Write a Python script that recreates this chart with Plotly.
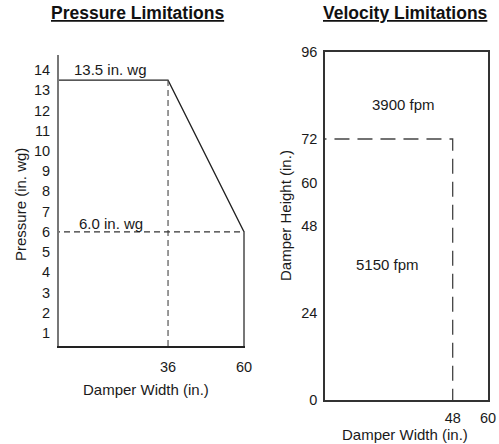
import plotly.graph_objects as go

# Pressure limitations data
p_width = [0, 36, 60, 60]
p_pressure = [13.5, 13.5, 6.0, 0]
p_yticks = list(range(1, 15))
p_xticks = [36, 60]
p_high_label = "13.5 in. wg"
p_low_label = "6.0 in. wg"

# Velocity limitations data
v_width_max = 60
v_height_max = 96
v_limit_width = 48
v_limit_height = 72
v_yticks = [0, 24, 48, 60, 72, 96]
v_xticks = [48, 60]
v_high_label = "3900 fpm"
v_low_label = "5150 fpm"

FONT = "Liberation Sans, Arial, Helvetica, sans-serif"
fig = go.Figure()

# Left: pressure curve
fig.add_trace(go.Scatter(x=p_width, y=p_pressure, mode="lines",
                         line=dict(color="#222", width=1.3), xaxis="x", yaxis="y",
                         hoverinfo="skip"))
# right edge (gray thick)
fig.add_trace(go.Scatter(x=[p_width[2], p_width[3]], y=[p_pressure[2], p_pressure[3]], mode="lines",
                         line=dict(color="#777", width=2), xaxis="x", yaxis="y", hoverinfo="skip"))
# dashed guides
fig.add_trace(go.Scatter(x=[p_width[1], p_width[1]], y=[p_pressure[1], 0], mode="lines",
                         line=dict(color="#555", width=1.2, dash="6px,4px"), xaxis="x", yaxis="y",
                         hoverinfo="skip"))
fig.add_trace(go.Scatter(x=[0, p_width[2]], y=[p_pressure[2], p_pressure[2]], mode="lines",
                         line=dict(color="#333", width=1.2, dash="6px,4px"), xaxis="x", yaxis="y",
                         hoverinfo="skip"))

# Right: velocity dashed guide
fig.add_trace(go.Scatter(x=[0, v_limit_width, v_limit_width], y=[v_limit_height, v_limit_height, 0],
                         mode="lines", line=dict(color="#444", width=1.3, dash="15px,8px"),
                         xaxis="x2", yaxis="y2", hoverinfo="skip"))

tickfont = dict(family=FONT, size=14.5, color="#1a1a1a")

fig.update_layout(
    width=499, height=444, showlegend=False, autosize=False,
    margin=dict(l=0, r=0, t=0, b=0, pad=0),
    paper_bgcolor="white", plot_bgcolor="white",
    xaxis=dict(domain=[59/499, 245/499], range=[1.58, 60.3], tickvals=p_xticks,
               showgrid=False, zeroline=False, showline=True, linecolor="#222", linewidth=1.5,
               ticks="outside", ticklen=7, tickcolor="rgba(0,0,0,0)", tickfont=tickfont,
               anchor="y", fixedrange=True, automargin=False),
    yaxis=dict(domain=[1-346/444, 1-55/444], range=[0.36, 14.74], tickvals=p_yticks,
               showgrid=False, zeroline=False, showline=True, linecolor="#777", linewidth=2,
               ticks="outside", ticklen=4, tickcolor="rgba(0,0,0,0)", tickfont=tickfont,
               anchor="x", fixedrange=True, automargin=False),
    xaxis2=dict(domain=[325/499, 488/499], range=[4.6, v_width_max], tickvals=v_xticks,
                showgrid=False, zeroline=False, showline=True, mirror=True, linecolor="#333",
                linewidth=1.5, ticks="outside", ticklen=4, tickcolor="rgba(0,0,0,0)",
                tickfont=tickfont, anchor="y2", fixedrange=True, automargin=False),
    yaxis2=dict(domain=[1-400/444, 1-52/444], range=[0, v_height_max], tickvals=v_yticks,
                showgrid=False, zeroline=False, showline=True, mirror=True, linecolor="#333",
                linewidth=1.5, ticks="outside", ticklen=3, tickcolor="rgba(0,0,0,0)",
                tickfont=tickfont, anchor="x2", fixedrange=True, automargin=False),
)

ann_font = dict(family=FONT, size=15, color="#1a1a1a")
title_font = dict(family=FONT, size=17.5, color="#111")


def ann(text, px, py, font, angle=0):
    return dict(text=text, x=px/499, y=1-py/444, xref="paper", yref="paper",
                xanchor="center", yanchor="middle", showarrow=False, font=font,
                textangle=angle)


annotations = [
    ann("<b><u>Pressure Limitations</u></b>", 137, 13, title_font),
    ann("<b><u>Velocity Limitations</u></b>", 405, 13, title_font),
    ann("Damper Width (in.)", 146, 389, ann_font),
    ann("Damper Width (in.)", 405, 434, ann_font),
    ann("Pressure (in. wg)", 20, 205, ann_font, -90),
    ann("Damper Height (in.)", 285, 216, ann_font, -90),
    ann(p_high_label, 110, 70, ann_font),
    ann(p_low_label, 111, 223, ann_font),
    ann(v_high_label, 403, 104, ann_font),
    ann(v_low_label, 387, 264, ann_font),
]
fig.update_layout(annotations=annotations)

fig.write_html("out.html", config={"responsive": False, "displayModeBar": False},
               post_script="document.body.style.margin='0';document.body.style.overflow='hidden';")
